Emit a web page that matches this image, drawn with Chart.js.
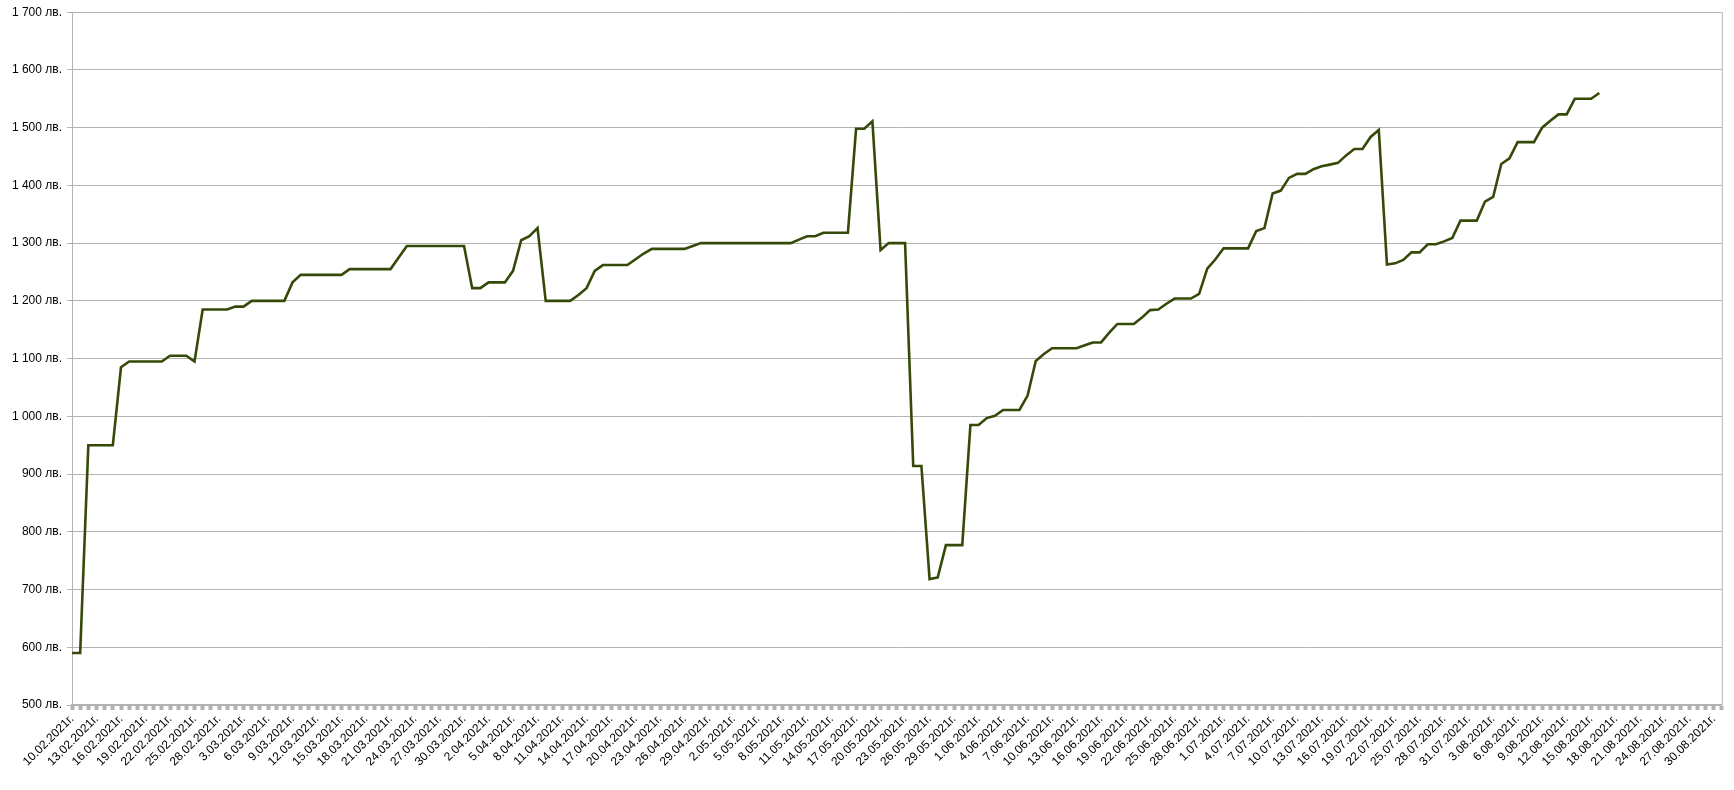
<!DOCTYPE html>
<html>
<head>
<meta charset="utf-8">
<script src="https://cdn.jsdelivr.net/npm/chart.js"></script>
<style>
  body { margin: 0; background: #fff; }
  #wrap { width: 1734px; height: 790px; }
</style>
</head>
<body>
<div id="wrap"><canvas id="chart" width="1734" height="790"></canvas></div>
<script>
// Category axis: every day from 10.02.2021 to 31.08.2021
const startDate = [2021, 1, 10]; // year, month (0-based), day
const dayCount = 203;

// Balance per day (лв.), split by month
const febValues = [590, 590, 950, 950, 950, 950, 1085, 1095, 1095, 1095, 1095, 1095, 1105, 1105, 1105, 1095, 1185, 1185, 1185];
const marValues = [1185, 1190, 1190, 1200, 1200, 1200, 1200, 1200, 1232, 1245, 1245, 1245, 1245, 1245, 1245,
  1255, 1255, 1255, 1255, 1255, 1255, 1275, 1295, 1295, 1295, 1295, 1295, 1295, 1295, 1295, 1222];
const aprValues = [1222, 1232, 1232, 1232, 1252, 1305, 1312, 1326, 1200, 1200, 1200, 1200, 1210, 1222, 1252,
  1262, 1262, 1262, 1262, 1272, 1282, 1290, 1290, 1290, 1290, 1290, 1295, 1300, 1300, 1300];
const mayValues = [1300, 1300, 1300, 1300, 1300, 1300, 1300, 1300, 1300, 1306, 1312, 1312, 1318, 1318, 1318,
  1318, 1498, 1498, 1511, 1288, 1300, 1300, 1300, 914, 914, 718, 721, 777, 777, 777, 985];
const junValues = [985, 997, 1001, 1011, 1011, 1011, 1036, 1096, 1108, 1118, 1118, 1118, 1118, 1123, 1128,
  1128, 1145, 1160, 1160, 1160, 1171, 1184, 1185, 1195, 1204, 1204, 1204, 1212, 1256, 1272];
const julValues = [1291, 1291, 1291, 1291, 1321, 1326, 1386, 1391, 1413, 1420, 1420, 1428, 1433, 1436, 1439,
  1452, 1463, 1463, 1484, 1496, 1263, 1265, 1271, 1284, 1284, 1298, 1298, 1303, 1309, 1339, 1339];
const augValues = [1339, 1372, 1380, 1437, 1447, 1475, 1475, 1475, 1500, 1512, 1523, 1523, 1550, 1550, 1550, 1560];

// Y axis range
const yMin = 500;
const yMax = 1700;
const yStep = 100;

// build labels like "3.03.2021г."
const labels = [];
for (let i = 0; i < dayCount; i++) {
  const d = new Date(Date.UTC(startDate[0], startDate[1], startDate[2] + i));
  const mm = String(d.getUTCMonth() + 1).padStart(2, '0');
  labels.push(`${d.getUTCDate()}.${mm}.${d.getUTCFullYear()}г.`);
}

const values = [...febValues, ...marValues, ...aprValues, ...mayValues, ...junValues, ...julValues, ...augValues];

const gridGrey = '#b3b3b3';
const font = { family: '"Liberation Sans", Arial, sans-serif', size: 12 };

// draws the grey right edge of the plot area
const frameRight = {
  id: 'frameRight',
  beforeDatasetsDraw(chart) {
    const { ctx, chartArea } = chart;
    ctx.save();
    ctx.strokeStyle = gridGrey;
    ctx.lineWidth = 1;
    ctx.beginPath();
    ctx.moveTo(chartArea.right + 0.5, chartArea.top);
    ctx.lineTo(chartArea.right + 0.5, chartArea.bottom);
    ctx.stroke();
    ctx.restore();
  }
};

new Chart(document.getElementById('chart').getContext('2d'), {
  type: 'line',
  data: {
    labels: labels,
    datasets: [{
      data: values,
      borderColor: '#354a08',
      borderWidth: 2.6,
      pointRadius: 0,
      tension: 0,
      fill: false
    }]
  },
  options: {
    responsive: false,
    animation: false,
    devicePixelRatio: 1,
    layout: { padding: { top: 11, right: 11, left: 0, bottom: 0 } },
    plugins: { legend: { display: false }, tooltip: { enabled: false } },
    scales: {
      x: {
        offset: false,
        afterFit: s => { s.height = 85; },
        grid: { drawOnChartArea: false, color: gridGrey, tickLength: 5, tickWidth: 4 },
        border: { color: gridGrey, width: 2 },
        ticks: {
          autoSkip: false,
          minRotation: 45,
          maxRotation: 45,
          padding: 2,
          color: '#000',
          font: font,
          callback: (v, i) => (i % 3 === 0 ? labels[i] : '')
        }
      },
      y: {
        min: yMin,
        max: yMax,
        afterFit: s => { s.width = 72; },
        grid: { color: gridGrey, tickLength: 5 },
        border: { color: gridGrey, width: 1 },
        ticks: {
          stepSize: yStep,
          padding: 5,
          color: '#000',
          font: font,
          callback: v => String(v).replace(/\B(?=(\d{3})+(?!\d))/g, ' ') + ' лв.'
        }
      }
    }
  },
  plugins: [frameRight]
});
</script>
</body>
</html>
